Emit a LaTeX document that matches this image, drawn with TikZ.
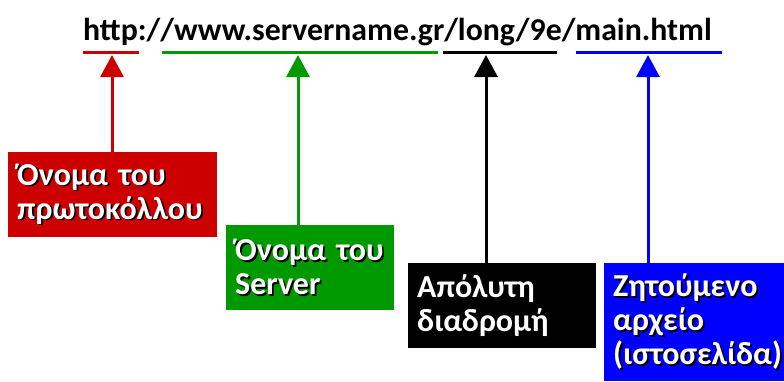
\documentclass[tikz,border=0pt]{standalone}
\usepackage{fontspec}
\setmainfont{Carlito}
\usetikzlibrary{arrows.meta}
\definecolor{cred}{RGB}{204,0,0}
\definecolor{cgreen}{RGB}{0,153,0}
\definecolor{cblue}{RGB}{0,0,255}
\newcommand{\shd}[1]{\makebox[0pt][l]{\hspace{1.8pt}\raisebox{-1.8pt}{\color{black}#1}}#1}
\tikzset{
  lbl/.style={anchor=north west, fill=#1, text=white, inner xsep=9pt, inner ysep=0pt,
    align=left, font=\fontsize{32}{34}\selectfont\bfseries},
  uline/.style={line width=3pt, draw=#1},
  arr/.style={line width=3pt, draw=#1, -{Triangle[width=23pt,length=22pt]}, color=#1}
}
\begin{document}
\begin{tikzpicture}[x=1pt,y=-1pt]
\useasboundingbox (0,0) rectangle (784,381);
\node[anchor=base west, inner sep=0pt, font=\fontsize{31.8}{34}\selectfont\bfseries] (url) at (83,40) {http://www.servername.gr/long/9e/main.html};
% underlines
\coordinate (r1) at (83,52); \coordinate (r2) at (139,52);
\coordinate (g1) at (162,52); \coordinate (g2) at (438,52);
\coordinate (k1) at (443,52); \coordinate (k2) at (557,52);
\coordinate (b1) at (576,52); \coordinate (b2) at (722,52);
\draw[uline=cred] (r1) -- (r2);
\draw[uline=cgreen] (g1) -- (g2);
\draw[uline=black] (k1) -- (k2);
\draw[uline=cblue] (b1) -- (b2);
% arrow tips
\coordinate (tr) at (112,55);
\coordinate (tg) at (298,55);
\coordinate (tk) at (486,55);
\coordinate (tb) at (648,55);
% boxes
\node[lbl=cred, text width=191pt, minimum height=85pt] (bred) at (8,152) {\shd{Όνομα του}\\\shd{πρωτοκόλλου}};
\node[lbl=cgreen, text width=150pt, minimum height=85pt] (bgreen) at (226,225) {\shd{Όνομα του}\\\shd{Server}};
\node[lbl=black, text width=170pt, minimum height=85pt] (bblack) at (408,263) {Απόλυτη\\διαδρομή};
\node[lbl=cblue, text width=162pt, minimum height=118pt] (bblue) at (604,263) {\shd{Ζητούμενο}\\\shd{αρχείο}\\\shd{(ιστοσελίδα)}};
% arrows
\draw[arr=cred] (bred.north -| tr) -- (tr);
\draw[arr=cgreen] (bgreen.north -| tg) -- (tg);
\draw[arr=black] (bblack.north -| tk) -- (tk);
\draw[arr=cblue] (bblue.north -| tb) -- (tb);
\end{tikzpicture}
\end{document}
